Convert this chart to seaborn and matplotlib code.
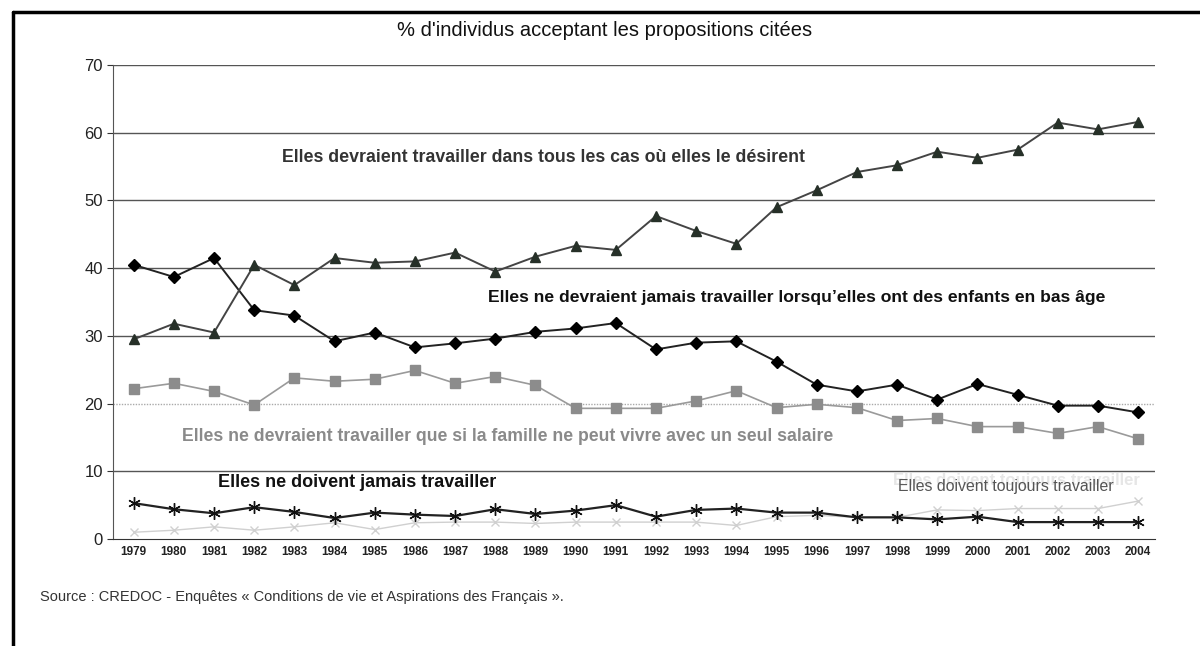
import pandas as pd
import matplotlib.pyplot as plt
import matplotlib.lines as mlines
import seaborn as sns

years = list(range(1979, 2005))

desirent = [29.5, 31.8, 30.5, 40.5, 37.5, 41.5, 40.8, 41.0, 42.3, 39.5, 41.7, 43.3, 42.7,
            47.7, 45.5, 43.6, 49.0, 51.5, 54.2, 55.2, 57.2, 56.3, 57.5, 61.5, 60.5, 61.6]
jamais_enfants = [40.5, 38.7, 41.5, 33.8, 33.0, 29.2, 30.5, 28.3, 28.9, 29.6, 30.6, 31.1, 31.9,
                  28.0, 29.0, 29.2, 26.2, 22.8, 21.8, 22.8, 20.6, 22.9, 21.3, 19.7, 19.7, 18.7]
un_salaire = [22.2, 23.0, 21.8, 19.8, 23.8, 23.3, 23.6, 24.9, 23.0, 24.0, 22.7, 19.3, 19.3,
              19.3, 20.4, 21.9, 19.4, 19.9, 19.4, 17.5, 17.8, 16.6, 16.6, 15.6, 16.6, 14.8]
jamais = [5.3, 4.4, 3.8, 4.7, 4.0, 3.1, 3.9, 3.6, 3.4, 4.4, 3.7, 4.2, 5.0,
          3.3, 4.3, 4.5, 3.9, 3.9, 3.2, 3.2, 2.9, 3.3, 2.5, 2.5, 2.5, 2.5]
toujours = [1.0, 1.3, 1.8, 1.3, 1.8, 2.4, 1.4, 2.4, 2.5, 2.5, 2.3, 2.5, 2.5,
            2.5, 2.5, 2.0, 3.3, 3.5, 3.2, 3.2, 4.3, 4.2, 4.5, 4.5, 4.5, 5.6]

df = pd.DataFrame({'year': years, 'desirent': desirent, 'jamais_enfants': jamais_enfants,
                   'un_salaire': un_salaire, 'jamais': jamais, 'toujours': toujours})

sns.set_style('white')
plt.rcParams['font.family'] = ['Liberation Sans', 'DejaVu Sans']

fig = plt.figure(figsize=(12, 6.46), dpi=100)
ax = fig.add_axes([0.094, 0.1656, 0.8685, 0.7337])

# gridlines first
for v in [10, 30, 40, 50, 60, 70]:
    ax.axhline(v, color='#555555', lw=1.0, zorder=0)
ax.axhline(20, color='#aaaaaa', lw=1.0, ls=(0, (1, 1)), zorder=0)

asterisk = (6, 2, 0)
series = [
    ('toujours', '#d0d0d0', 'x', '#d0d0d0', 5.5, 1.0),
    ('jamais', '#222222', asterisk, '#111111', 9, 1.6),
    ('un_salaire', '#9a9a9a', 's', '#8c8c8c', 6.5, 1.2),
    ('jamais_enfants', '#222222', 'D', '#000000', 6, 1.4),
    ('desirent', '#444444', '^', '#263028', 7, 1.4),
]
for col, lc, mk, mc, ms, lw in series:
    sns.lineplot(data=df, x='year', y=col, ax=ax, color=lc, lw=lw, marker=mk,
                 markersize=ms, markerfacecolor=mc, markeredgecolor=mc,
                 markeredgewidth=1.0, zorder=3)

ax.set_xlim(1978.48, 2004.42)
ax.set_ylim(0, 70)
ax.set_yticks(range(0, 71, 10))
ax.set_yticklabels([str(v) for v in range(0, 71, 10)], fontsize=12, color='#222222')
ax.set_xticks(years)
ax.set_xticklabels([str(y) for y in years], fontsize=8.5, fontweight='bold', color='#222222')
ax.set_xticks([y + 0.5 for y in years[:-1]], minor=True)
ax.tick_params(axis='x', which='major', length=0, pad=5)
ax.tick_params(axis='x', which='minor', length=4, direction='out', color='#333333', width=1)
ax.tick_params(axis='y', length=4, direction='out', color='#333333', pad=3, left=True)
ax.set_xlabel('')
ax.set_ylabel('')
for s in ['top', 'right']:
    ax.spines[s].set_visible(False)
ax.spines['left'].set_color('#555555')
ax.spines['bottom'].set_color('#333333')

ax.text(1989.2, 56.4, "Elles devraient travailler dans tous les cas où elles le désirent",
        ha='center', va='center', fontsize=12.8, fontweight='bold', color='#333333')
ax.text(1995.5, 35.7, "Elles ne devraient jamais travailler lorsqu\u2019elles ont des enfants en bas âge",
        ha='center', va='center', fontsize=12.6, fontweight='bold', color='#111111')
ax.text(1988.3, 15.2, "Elles ne devraient travailler que si la famille ne peut vivre avec un seul salaire",
        ha='center', va='center', fontsize=12.7, fontweight='bold', color='#8a8a8a')
ax.text(1984.55, 8.4, "Elles ne doivent jamais travailler",
        ha='center', va='center', fontsize=13, fontweight='bold', color='#111111')
ax.text(2000.96, 8.6, "Elles doivent toujours travailler",
        ha='center', va='center', fontsize=12, fontweight='bold', color='#e6e6e6', zorder=1)
ax.text(2000.7, 7.7, "Elles doivent toujours travailler",
        ha='center', va='center', fontsize=11.4, color='#555555', zorder=2)

fig.text(0.504, 0.953, "% d'individus acceptant les propositions citées",
         ha='center', va='center', fontsize=14.5, color='#111111')
fig.text(0.033, 0.076, "Source : CREDOC - Enquêtes « Conditions de vie et Aspirations des Français ».",
         ha='left', va='center', fontsize=10.5, color='#333333')

# frame lines (top and left) around the figure
fig.add_artist(mlines.Line2D([0.0105, 1.0], [0.9815, 0.9815], color='black', lw=2.5,
                             transform=fig.transFigure))
fig.add_artist(mlines.Line2D([0.0105, 0.0105], [0.0, 0.9815], color='black', lw=2.5,
                             transform=fig.transFigure))

fig.savefig('out.png', dpi=100)
